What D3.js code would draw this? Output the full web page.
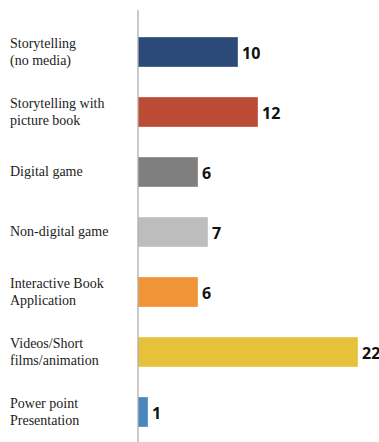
<!DOCTYPE html>
<html>
<head>
<meta charset="utf-8">
<script src="https://cdn.jsdelivr.net/npm/d3@7"></script>
<style>
  html, body { margin: 0; padding: 0; background: #fff; }
  svg { display: block; }
</style>
</head>
<body>
<svg id="chart"></svg>
<script>
const categories = [
  ['Storytelling', '(no media)'],
  ['Storytelling with', 'picture book'],
  ['Digital game'],
  ['Non-digital game'],
  ['Interactive Book', 'Application'],
  ['Videos/Short', 'films/animation'],
  ['Power point', 'Presentation'],
];
const values = [10, 12, 6, 7, 6, 22, 1];
const colors = ['#2c4a79', '#bb4b35', '#7f7f7f', '#bdbdbd', '#ef9537', '#e6c13b', '#4a87bd'];

const width = 379;
const height = 442;
const axisX = 138;

const svg = d3.select('#chart')
  .attr('width', width)
  .attr('height', height);

const idx = d3.range(values.length);

const y = d3.scaleBand()
  .domain(idx)
  .range([22, 442])
  .paddingInner(0.5)
  .paddingOuter(0.25);

const x = d3.scaleLinear()
  .domain([0, 22])
  .range([axisX, axisX + 220]);

// bars
svg.append('g')
  .selectAll('rect')
  .data(idx)
  .enter()
  .append('rect')
  .attr('x', x(0))
  .attr('y', i => y(i))
  .attr('width', i => x(values[i]) - x(0))
  .attr('height', y.bandwidth())
  .attr('fill', i => colors[i])
  .attr('stroke', '#ffffff')
  .attr('stroke-opacity', 0.35)
  .attr('stroke-width', 1);

// vertical axis line
svg.append('line')
  .attr('x1', axisX)
  .attr('x2', axisX)
  .attr('y1', 10)
  .attr('y2', height)
  .attr('stroke', '#a6a6a6')
  .attr('stroke-width', 1.2);

// category labels
const lineH = 17;
const labels = svg.append('g')
  .attr('font-family', '"Liberation Serif", "Times New Roman", serif')
  .attr('font-size', 14)
  .attr('fill', '#222');

labels.selectAll('text')
  .data(idx)
  .enter()
  .append('text')
  .attr('x', 10)
  .attr('y', i => y(i) + y.bandwidth() / 2)
  .each(function (i) {
    const lines = categories[i];
    const t = d3.select(this);
    lines.forEach((l, j) => {
      t.append('tspan')
        .attr('x', 10)
        .attr('dy', j === 0 ? ((-(lines.length - 1) / 2) * lineH + 4) : lineH)
        .text(l);
    });
  });

// value labels
svg.append('g')
  .attr('font-family', '"Open Sans", "Liberation Sans", sans-serif')
  .attr('font-weight', 'bold')
  .attr('font-size', 16)
  .attr('fill', '#111')
  .selectAll('text')
  .data(idx)
  .enter()
  .append('text')
  .attr('x', i => x(values[i]) + 4)
  .attr('y', i => y(i) + y.bandwidth() / 2 + 7)
  .text(i => values[i]);
</script>
</body>
</html>
